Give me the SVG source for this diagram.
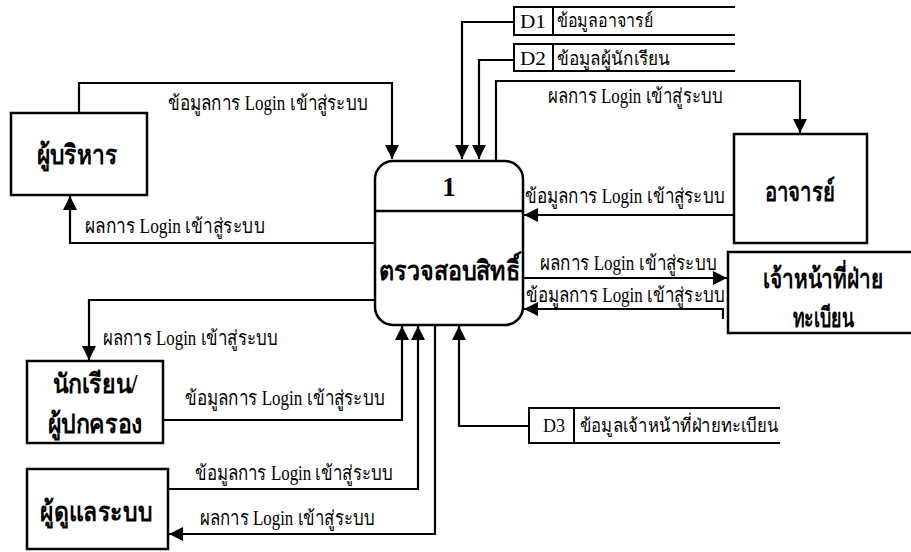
<svg xmlns="http://www.w3.org/2000/svg" width="911" height="552" viewBox="0 0 911 552">
<style>
.box{fill:#fff;stroke:#000;stroke-width:2.5}
.ln{fill:none;stroke:#000;stroke-width:2.2}
.ds{fill:none;stroke:#000;stroke-width:2}
.lbl{font-family:"Liberation Serif",serif;font-size:20px;fill:#000}
.nd{font-family:"Liberation Serif",serif;font-size:27px;font-weight:bold;fill:#000;text-anchor:middle}
.st{font-family:"Liberation Serif",serif;font-size:19px;fill:#000}
</style>
<defs>
<marker id="ah" markerUnits="userSpaceOnUse" markerWidth="16" markerHeight="14" refX="14" refY="7" orient="auto">
<path d="M0,0 L14,7 L0,14 Z" fill="#000"/>
</marker>
</defs>
<rect width="911" height="552" fill="#fff"/>
<g id="connectors">
<path class="ln" d="M79,113 V83 H392 V159" marker-end="url(#ah)"/>
<path class="ln" d="M375,243 H70 V196" marker-end="url(#ah)"/>
<path class="ln" d="M514,22 H462 V159" marker-end="url(#ah)"/>
<path class="ln" d="M514,60 H479 V159" marker-end="url(#ah)"/>
<path class="ln" d="M496,160 V81 H800 V133" marker-end="url(#ah)"/>
<path class="ln" d="M734,215 H524" marker-end="url(#ah)"/>
<path class="ln" d="M523,278 H727" marker-end="url(#ah)"/>
<path class="ln" d="M723,319 V309 H524" marker-end="url(#ah)"/>
<path class="ln" d="M375,300 H89 V360" marker-end="url(#ah)"/>
<path class="ln" d="M163,420 H402 V326" marker-end="url(#ah)"/>
<path class="ln" d="M168,489 H418 V326" marker-end="url(#ah)"/>
<path class="ln" d="M435,325 V534 H169" marker-end="url(#ah)"/>
<path class="ln" d="M529,426 H459 V326" marker-end="url(#ah)"/>
<text class="lbl" x="168" y="110" textLength="200" lengthAdjust="spacingAndGlyphs">ข้อมูลการ Login เข้าสู่ระบบ</text>
<text class="lbl" x="85" y="233" textLength="180" lengthAdjust="spacingAndGlyphs">ผลการ Login เข้าสู่ระบบ</text>
<text class="lbl" x="548" y="103" textLength="175" lengthAdjust="spacingAndGlyphs">ผลการ Login เข้าสู่ระบบ</text>
<text class="lbl" x="525" y="203" textLength="200" lengthAdjust="spacingAndGlyphs">ข้อมูลการ Login เข้าสู่ระบบ</text>
<text class="lbl" x="540" y="270" textLength="177" lengthAdjust="spacingAndGlyphs">ผลการ Login เข้าสู่ระบบ</text>
<text class="lbl" x="526" y="302" textLength="199" lengthAdjust="spacingAndGlyphs">ข้อมูลการ Login เข้าสู่ระบบ</text>
<text class="lbl" x="103" y="345" textLength="175" lengthAdjust="spacingAndGlyphs">ผลการ Login เข้าสู่ระบบ</text>
<text class="lbl" x="185" y="405" textLength="200" lengthAdjust="spacingAndGlyphs">ข้อมูลการ Login เข้าสู่ระบบ</text>
<text class="lbl" x="195" y="480" textLength="198" lengthAdjust="spacingAndGlyphs">ข้อมูลการ Login เข้าสู่ระบบ</text>
<text class="lbl" x="200" y="525" textLength="175" lengthAdjust="spacingAndGlyphs">ผลการ Login เข้าสู่ระบบ</text>
</g>
<g id="process1">
<rect class="box" x="375" y="161" width="148" height="164" rx="18"/>
<line class="box" x1="375" y1="211" x2="523" y2="211"/>
<text class="nd" x="449" y="196">1</text>
<text class="nd" x="449" y="280" textLength="141" lengthAdjust="spacingAndGlyphs">ตรวจสอบสิทธิ์</text>
</g>
<g id="executive">
<rect class="box" x="11" y="113" width="136" height="82"/>
<text class="nd" x="77" y="164" textLength="81" lengthAdjust="spacingAndGlyphs">ผู้บริหาร</text>
</g>
<g id="teacher">
<rect class="box" x="734" y="134" width="133" height="109"/>
<text class="nd" x="800" y="201" textLength="70" lengthAdjust="spacingAndGlyphs">อาจารย์</text>
</g>
<g id="registrar">
<rect class="box" x="728" y="252" width="190" height="81"/>
<text class="nd" x="823" y="288" textLength="120" lengthAdjust="spacingAndGlyphs">เจ้าหน้าที่ฝ่าย</text>
<text class="nd" x="823" y="327" textLength="61" lengthAdjust="spacingAndGlyphs">ทะเบียน</text>
</g>
<g id="student">
<rect class="box" x="27" y="361" width="136" height="82"/>
<text class="nd" x="95" y="393" textLength="85" lengthAdjust="spacingAndGlyphs">นักเรียน/</text>
<text class="nd" x="95" y="433" textLength="95" lengthAdjust="spacingAndGlyphs">ผู้ปกครอง</text>
</g>
<g id="admin">
<rect class="box" x="27" y="469" width="141" height="80"/>
<text class="nd" x="96" y="521" textLength="112" lengthAdjust="spacingAndGlyphs">ผู้ดูแลระบบ</text>
</g>
<g id="D1">
<path class="ds" d="M735,7 H514 V35 H735 M553,7 V35"/>
<text class="st" x="520" y="28" textLength="26" lengthAdjust="spacingAndGlyphs">D1</text>
<text class="st" x="557" y="27" textLength="96" lengthAdjust="spacingAndGlyphs">ข้อมูลอาจารย์</text>
</g>
<g id="D2">
<path class="ds" d="M735,44 H514 V71 H735 M553,44 V71"/>
<text class="st" x="520" y="65" textLength="26" lengthAdjust="spacingAndGlyphs">D2</text>
<text class="st" x="557" y="65" textLength="113" lengthAdjust="spacingAndGlyphs">ข้อมูลผู้นักเรียน</text>
</g>
<g id="D3">
<path class="ds" d="M780,408 H529 V443 H780 M574,408 V443"/>
<text class="st" x="543" y="432" textLength="22" lengthAdjust="spacingAndGlyphs">D3</text>
<text class="st" x="580" y="432" textLength="198" lengthAdjust="spacingAndGlyphs">ข้อมูลเจ้าหน้าที่ฝ่ายทะเบียน</text>
</g>
</svg>
